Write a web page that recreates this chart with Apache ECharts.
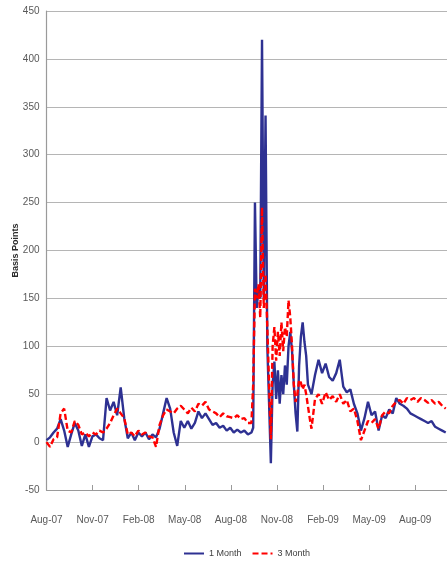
<!DOCTYPE html>
<html><head><meta charset="utf-8">
<script src="https://cdn.jsdelivr.net/npm/echarts@6/dist/echarts.min.js"></script>
<style>html,body{margin:0;padding:0;background:#fff}#c{width:447px;height:563px}</style>
</head><body><div id="c"></div>
<script>
// x-axis tick labels (every 3 months from Aug-07)
const tickLabels = ['Aug-07','Nov-07','Feb-08','May-08','Aug-08','Nov-08','Feb-09','May-09','Aug-09'];
const seriesNames = ['1 Month', '3 Month'];

// sample positions in weeks since 1 Aug 2007 (half-week steps through the Sep-Oct 2008 turmoil)
const weeks = [];
for (let w = 0; w <= 57; w++) weeks.push(w);
for (let w = 57.5; w <= 75; w += 0.5) weeks.push(w);
for (let w = 76; w <= 113; w++) weeks.push(w);

// 1 Month spread, basis points
const oneMonth = [
  2, 5, 10, 14, 24, 12, -5, 8, 20, 12,
  -4, 8, -5, 6, 8, 4, 2, 46, 33, 42,
  28, 57, 25, 4, 10, 2, 10, 6, 10, 3,
  8, 5, 14, 30, 46, 35, 10, -4, 22, 15,
  22, 14, 20, 32, 25, 30, 24, 18, 20, 15,
  17, 12, 15, 10, 13, 10, 12, 8,
  // 57.5 .. 75 (half weeks)
  6, 10, 15, 250, 140, 160, 150, 420, 150, 341,
  100, 40, -22, 60, 84, 45, 75, 40, 70, 50,
  80, 60, 100, 115, 95, 60, 30, 11, 80, 110,
  125, 105, 90, 60, 55, 50,
  // 76 .. 113
  70, 86, 72, 82, 68, 64, 72, 86, 58, 52,
  55, 40, 30, 12, 25, 42, 28, 32, 12, 28,
  25, 34, 30, 46, 40, 38, 35, 30, 28, 26,
  24, 22, 20, 22, 16, 14, 12, 10
];

// 3 Month spread, basis points
const threeMonth = [
  0, -5, 3, 5, 30, 35, 12, 10, 22, 18,
  8, 10, 6, 10, 8, 12, 10, 14, 20, 28,
  35, 30, 25, 8, 10, 6, 12, 8, 10, 6,
  5, -5, 18, 28, 34, 32, 30, 35, 38, 34,
  30, 36, 32, 40, 38, 42, 34, 32, 30, 26,
  30, 27, 26, 25, 28, 24, 25, 20,
  // 57.5 .. 75 (half weeks)
  22, 20, 60, 160, 150, 165, 130, 245, 140, 175,
  120, 60, 3, 100, 120, 85, 115, 90, 125, 95,
  120, 110, 148, 130, 100, 60, 42, 50, 65, 62,
  55, 60, 50, 48, 25, 14,
  // 76 .. 113
  45, 50, 40, 52, 44, 48, 42, 50, 40, 44,
  32, 35, 22, 2, 12, 22, 20, 24, 14, 28,
  32, 30, 38, 42, 44, 40, 46, 44, 46, 42,
  46, 44, 41, 44, 40, 42, 38, 35
];

const toMonths = w => w * 7 / 30.4375;
const font = "'Liberation Sans Narrow','Liberation Sans',Arial,sans-serif";

const chart = echarts.init(document.getElementById('c'), null, {renderer: 'canvas'});
chart.setOption({
  animation: false,
  backgroundColor: '#ffffff',
  grid: {left: 46.5, right: 0, top: 11, bottom: 73, containLabel: false, outerBoundsMode: 'none'},
  legend: {
    left: 178, top: 544,
    itemWidth: 20, itemHeight: 8, itemGap: 10,
    itemStyle: {opacity: 0},
    textStyle: {fontSize: 9, color: '#404040', fontFamily: font},
    data: seriesNames
  },
  xAxis: {
    type: 'value', min: 0, max: 26.07, interval: 3,
    axisLine: {onZero: false, lineStyle: {color: '#9a9a9a', width: 1.2}},
    axisTick: {inside: true, length: 5, lineStyle: {color: '#9a9a9a'}},
    splitLine: {show: false},
    axisLabel: {
      margin: 25, fontSize: 10, color: '#595959', fontFamily: font,
      showMaxLabel: false,
      formatter: v => {
        const k = Math.round(v / 3);
        return Math.abs(v - k * 3) < 1e-6 ? (tickLabels[k] || '') : '';
      }
    }
  },
  yAxis: {
    type: 'value', min: -50, max: 450, interval: 50,
    name: 'Basis Points', nameLocation: 'middle', nameGap: 26, nameRotate: 90,
    nameMoveOverlap: false,
    nameTextStyle: {fontSize: 9, fontWeight: 'bold', color: '#2a2a2a', fontFamily: 'Liberation Sans, Arial, sans-serif'},
    axisLine: {show: true, lineStyle: {color: '#9a9a9a', width: 1.2}},
    axisTick: {show: false},
    splitLine: {lineStyle: {color: '#b5b5b5', width: 1.2}},
    axisLabel: {margin: 7, fontSize: 10, color: '#595959', fontFamily: font}
  },
  series: [
    {
      name: seriesNames[0], type: 'line', symbol: 'none', z: 3,
      lineStyle: {color: '#2e3192', width: 2.4},
      itemStyle: {color: '#2e3192'},
      data: weeks.map((w, i) => [toMonths(w), oneMonth[i]])
    },
    {
      name: seriesNames[1], type: 'line', symbol: 'none', z: 4,
      lineStyle: {color: '#ff0000', width: 2.4, type: [6, 3]},
      itemStyle: {color: '#ff0000'},
      data: weeks.map((w, i) => [toMonths(w), threeMonth[i]])
    }
  ]
});
</script>
</body></html>
